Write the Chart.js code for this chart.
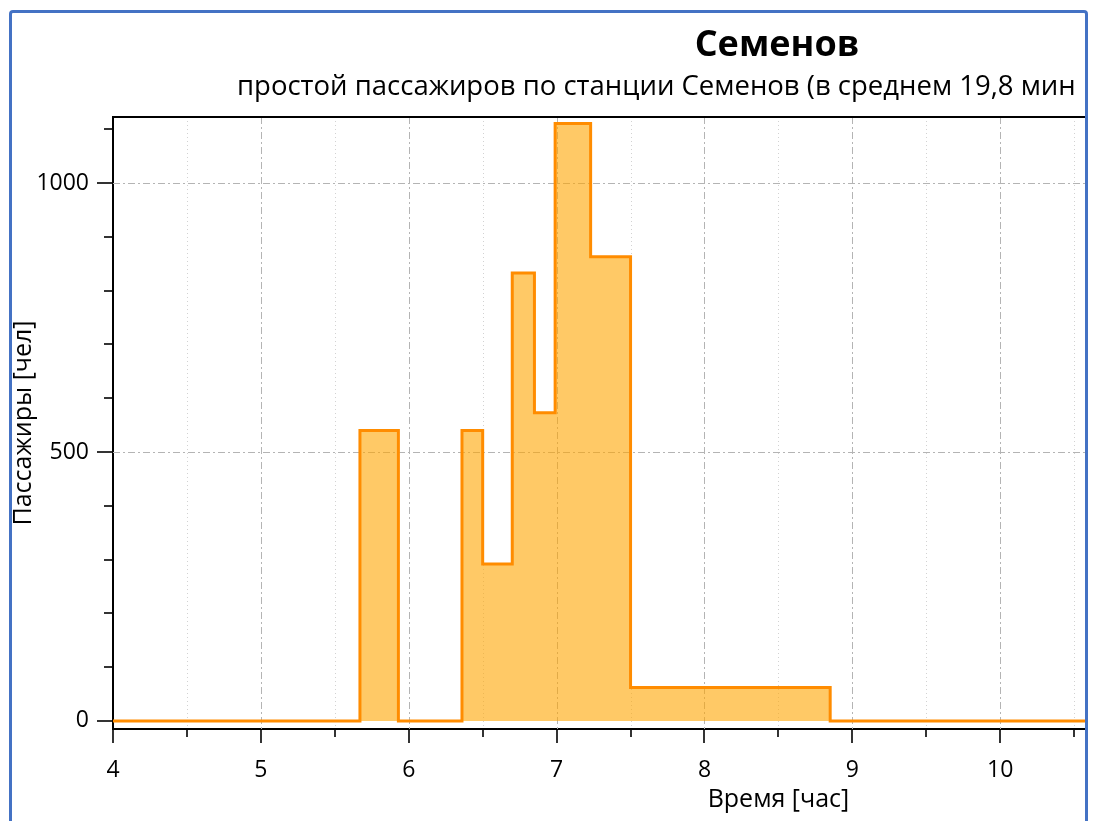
<!DOCTYPE html>
<html>
<head>
<meta charset="utf-8">
<script src="https://cdn.jsdelivr.net/npm/chart.js@4/dist/chart.umd.min.js"></script>
<style>
  html, body { margin: 0; padding: 0; background: #fff; }
  #frame {
    position: absolute; left: 9px; top: 10px; width: 1079px; height: 900px;
    border: 3px solid #4472c4; border-radius: 4px; box-sizing: border-box;
    overflow: hidden; background: #fff;
  }
  #radarCanvas { position: absolute; left: 0; top: 0; }
</style>
</head>
<body>
<div id="frame">
  <canvas id="radarCanvas" width="1473" height="808" style="width:1473px;height:808px"></canvas>
</div>
<script>
// начало интервала (час) и число пассажиров на интервале
const stepStart = [4, 5.67, 5.93, 6.36, 6.5, 6.7, 6.85, 6.99, 7.23, 7.5, 8.85, 13];
const passengers = [0, 540, 0, 540, 292, 833, 573, 1111, 863, 62, 0, 0];

const titleText = "Семенов";
const subtitleText = "простой пассажиров по станции Семенов (в среднем 19,8 мин";
const xTitle = "Время [час]";
const yTitle = "Пассажиры [чел]";

const xTickValues = [4, 5, 6, 7, 8, 9, 10, 11, 12, 13];
const yTickValues = [0, 500, 1000];
const xMin = 4, xMax = 13, xMinorStep = 0.5;
const yMin = -15, yMax = 1123, yMinorStep = 100;

const FONT = "'Open Sans', 'Noto Sans', sans-serif";

const plotDecor = {
  id: "plotDecor",
  beforeDatasetsDraw(chart) {
    const { ctx, chartArea: a, scales: { x, y } } = chart;
    ctx.save();
    ctx.lineWidth = 1;
    // вертикальная сетка
    for (let v = xMin + xMinorStep; v <= xMax; v += xMinorStep) {
      const px = Math.round(x.getPixelForValue(v)) + 0.5;
      const major = Math.abs(v - Math.round(v)) < 1e-6;
      ctx.setLineDash(major ? [7, 3, 2, 3] : [1, 3]);
      ctx.strokeStyle = major ? "#b4b4b4" : "#d2d2d2";
      ctx.beginPath();
      ctx.moveTo(px, a.top);
      ctx.lineTo(px, a.bottom);
      ctx.stroke();
    }
    // горизонтальная сетка
    ctx.setLineDash([7, 3, 2, 3]);
    ctx.strokeStyle = "#b4b4b4";
    yTickValues.filter(v => v > 0).forEach(v => {
      const py = Math.round(y.getPixelForValue(v)) + 0.5;
      ctx.beginPath();
      ctx.moveTo(a.left, py);
      ctx.lineTo(a.right, py);
      ctx.stroke();
    });
    ctx.restore();
  },
  afterDraw(chart) {
    const { ctx, chartArea: a, scales: { x, y } } = chart;
    ctx.save();
    ctx.strokeStyle = "#000";
    ctx.lineWidth = 2;
    // верхняя граница
    ctx.beginPath();
    ctx.moveTo(a.left - 1, a.top);
    ctx.lineTo(a.right, a.top);
    ctx.stroke();
    // засечки X
    ctx.lineWidth = 1.6;
    for (let v = xMin; v <= xMax; v += xMinorStep) {
      const px = Math.round(x.getPixelForValue(v));
      const major = Math.abs(v - Math.round(v)) < 1e-6;
      ctx.beginPath();
      ctx.moveTo(px, a.bottom);
      ctx.lineTo(px, a.bottom + (major ? 14 : 8));
      ctx.stroke();
    }
    // засечки Y
    for (let v = 0; v <= yMax; v += yMinorStep) {
      const py = Math.round(y.getPixelForValue(v));
      const major = v % 500 === 0;
      ctx.beginPath();
      ctx.moveTo(a.left, py);
      ctx.lineTo(a.left - (major ? 16 : 9), py);
      ctx.stroke();
    }
    // заголовки
    ctx.fillStyle = "#000";
    ctx.textBaseline = "alphabetic";
    ctx.font = "bold 36px " + FONT;
    ctx.textAlign = "center";
    ctx.fillText(titleText, 765, 43);
    ctx.font = "27.5px " + FONT;
    ctx.textAlign = "left";
    ctx.fillText(subtitleText, 225, 82);
    ctx.restore();
  }
};

const data = {
  datasets: [
    {
      label: "Пассажиры",
      data: stepStart.map((t, i) => ({ x: t, y: passengers[i] })),
      stepped: true,
      fill: "origin",
      backgroundColor: "rgba(255, 165, 0, 0.6)",
      borderColor: "#ff8c00",
      borderWidth: 3,
      pointRadius: 0,
    },
  ],
};

const config = {
  type: "line",
  data: data,
  options: {
    responsive: false,
    animation: false,
    devicePixelRatio: 1,
    layout: { padding: { left: 0, top: 104, right: 27, bottom: 0 } },
    plugins: { legend: { display: false }, tooltip: { enabled: false } },
    scales: {
      x: {
        type: "linear",
        min: xMin,
        max: xMax,
        grid: { display: false, drawTicks: false },
        border: { display: true, color: "#000", width: 2 },
        afterBuildTicks(scale) { scale.ticks = xTickValues.map(v => ({ value: v })); },
        ticks: {
          padding: 28,
          color: "#000",
          font: { family: FONT, size: 23 },
          maxRotation: 0,
          autoSkip: false,
          callback: v => String(v),
        },
        title: {
          display: true,
          text: xTitle,
          color: "#000",
          font: { family: FONT, size: 25 },
          padding: { top: 6, bottom: 6 },
        },
        afterFit(scale) { scale.height = 92; },
      },
      y: {
        min: yMin,
        max: yMax,
        grid: { display: false, drawTicks: false },
        border: { display: true, color: "#000", width: 2 },
        afterBuildTicks(scale) { scale.ticks = yTickValues.map(v => ({ value: v })); },
        ticks: {
          padding: 24,
          color: "#000",
          font: { family: FONT, size: 23 },
          autoSkip: false,
          callback: v => String(v),
        },
        title: {
          display: true,
          text: yTitle,
          color: "#000",
          font: { family: FONT, size: 25 },
          padding: { top: -3, bottom: 0 },
        },
        afterFit(scale) { scale.width = 101; },
      },
    },
  },
  plugins: [plotDecor],
};

const canvas = document.getElementById("radarCanvas");
if (canvas) {
  const ctx = canvas.getContext("2d");
  new Chart(ctx, config);
} else {
  console.error("Canvas не найден!");
}
</script>
</body>
</html>
